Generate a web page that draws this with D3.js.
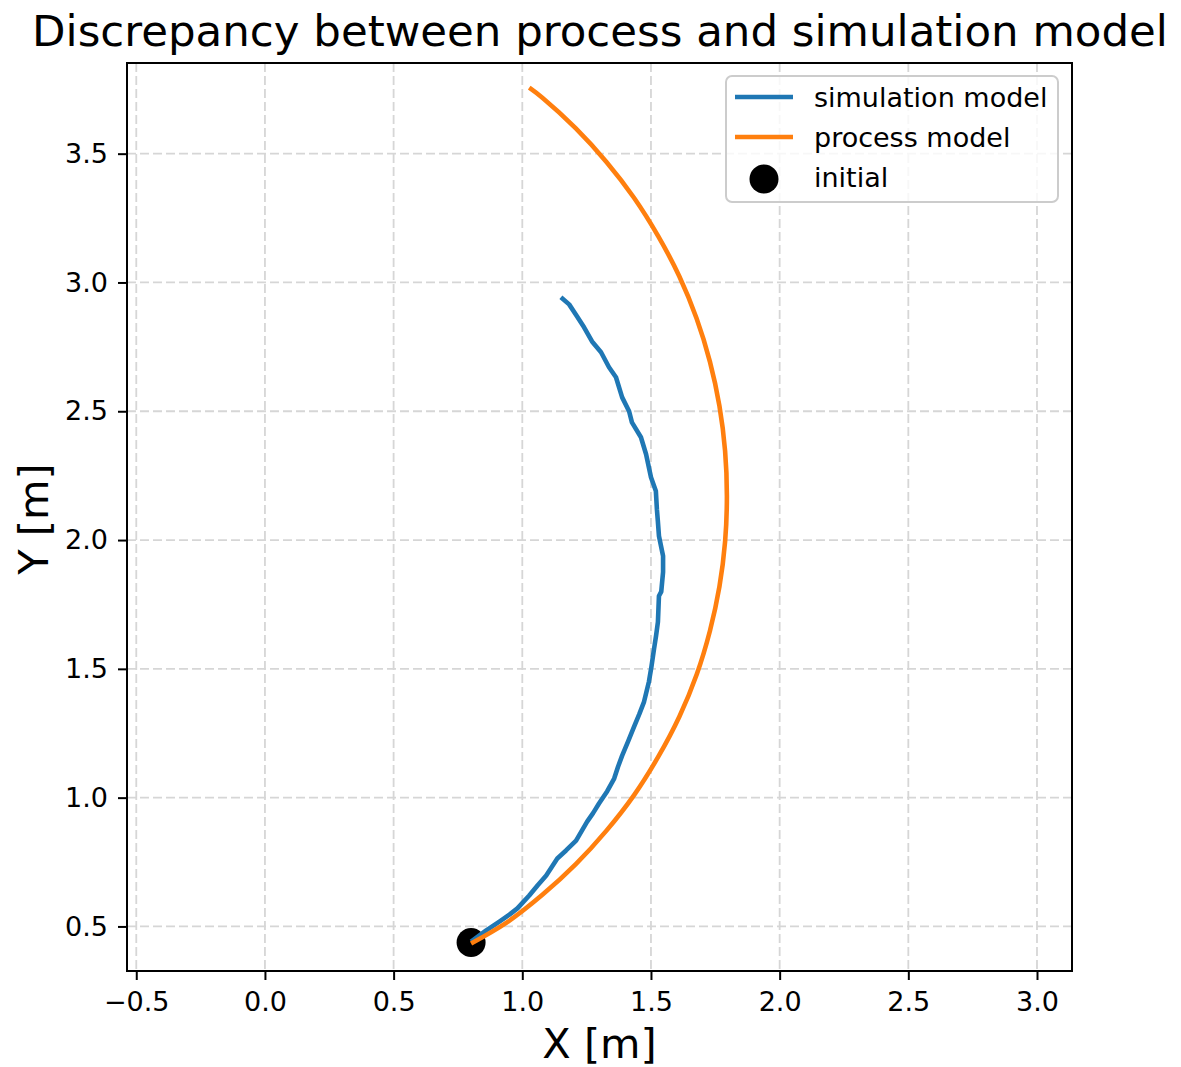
<!DOCTYPE html>
<html>
<head>
<meta charset="utf-8">
<script src="https://cdn.jsdelivr.net/npm/d3@7"></script>
<style>
  html, body { margin: 0; padding: 0; background: #fff; }
  text { font-family: "DejaVu Sans", sans-serif; }
</style>
</head>
<body>
<div id="container"></div>
<script>
const WIDTH = 1181;
const HEIGHT = 1067;

// trajectories (metres)
const simX = [0.801, 0.860, 0.911, 0.950, 0.981, 1.027, 1.060, 1.093, 1.136, 1.170, 1.209, 1.252,
  1.275, 1.298, 1.330, 1.357, 1.372, 1.388, 1.412, 1.434, 1.455, 1.473, 1.492, 1.502, 1.512,
  1.520, 1.527, 1.531, 1.540, 1.547, 1.547, 1.531, 1.527, 1.523, 1.519, 1.500, 1.481, 1.461,
  1.426, 1.415, 1.388, 1.364, 1.337, 1.306, 1.271, 1.240, 1.213, 1.182, 1.150];
const simY = [0.441, 0.485, 0.519, 0.546, 0.570, 0.620, 0.660, 0.698, 0.764, 0.795, 0.833, 0.907,
  0.940, 0.977, 1.025, 1.074, 1.120, 1.163, 1.220, 1.275, 1.325, 1.372, 1.450, 1.510, 1.578,
  1.630, 1.682, 1.783, 1.800, 1.876, 1.938, 2.016, 2.070, 2.120, 2.190, 2.244, 2.333, 2.399,
  2.457, 2.500, 2.554, 2.632, 2.671, 2.729, 2.771, 2.826, 2.868, 2.915, 2.943];

const procX = [0.801, 0.939, 1.078, 1.208, 1.327, 1.435, 1.529, 1.611, 1.678, 1.729, 1.766, 1.788,
  1.795, 1.788, 1.766, 1.729, 1.677, 1.610, 1.528, 1.434, 1.327, 1.208, 1.078, 1.027];
const procY = [0.434, 0.515, 0.623, 0.742, 0.872, 1.011, 1.160, 1.316, 1.479, 1.647, 1.819, 1.994,
  2.170, 2.346, 2.521, 2.693, 2.861, 3.024, 3.180, 3.329, 3.468, 3.598, 3.717, 3.756];

const initialX = 0.801;
const initialY = 0.438;

const xTicks = [-0.5, 0.0, 0.5, 1.0, 1.5, 2.0, 2.5, 3.0];
const xTickLabels = ['\u22120.5', '0.0', '0.5', '1.0', '1.5', '2.0', '2.5', '3.0'];
const yTicks = [0.5, 1.0, 1.5, 2.0, 2.5, 3.0, 3.5];
const yTickLabels = ['0.5', '1.0', '1.5', '2.0', '2.5', '3.0', '3.5'];

const seriesNames = ['simulation model', 'process model', 'initial'];
const seriesColors = ['#1f77b4', '#ff7f0e', '#000000'];

const LEFT = 127, RIGHT = 1072, TOP = 63, BOTTOM = 971;
const LINE_W = 4.6;

const svg = d3.select('#container')
  .append('svg')
  .attr('width', WIDTH)
  .attr('height', HEIGHT)
  .style('background-color', 'white');

const x = d3.scaleLinear().domain([-0.536, 3.136]).range([LEFT, RIGHT]);
const y = d3.scaleLinear().domain([0.327, 3.852]).range([BOTTOM, TOP]);

// grid
const grid = svg.append('g');
grid.selectAll('line.gx')
  .data(xTicks)
  .join('line')
  .attr('x1', d => x(d)).attr('x2', d => x(d))
  .attr('y1', TOP).attr('y2', BOTTOM)
  .style('stroke', '#d6d6d6')
  .style('stroke-width', 1.8)
  .style('stroke-dasharray', '9,4');
grid.selectAll('line.gy')
  .data(yTicks)
  .join('line')
  .attr('x1', LEFT).attr('x2', RIGHT)
  .attr('y1', d => y(d)).attr('y2', d => y(d))
  .style('stroke', '#d6d6d6')
  .style('stroke-width', 1.8)
  .style('stroke-dasharray', '9,4');

// initial point goes under the lines
svg.append('circle')
  .attr('cx', x(initialX))
  .attr('cy', y(initialY))
  .attr('r', 14.5)
  .style('fill', seriesColors[2]);

const simLine = d3.line()
  .x(d => x(d[0]))
  .y(d => y(d[1]));

const procLine = d3.line()
  .curve(d3.curveCatmullRom)
  .x(d => x(d[0]))
  .y(d => y(d[1]));

svg.append('path')
  .datum(d3.zip(simX, simY))
  .attr('d', simLine)
  .style('fill', 'none')
  .style('stroke', seriesColors[0])
  .style('stroke-width', LINE_W)
  .style('stroke-linejoin', 'round');

svg.append('path')
  .datum(d3.zip(procX, procY))
  .attr('d', procLine)
  .style('fill', 'none')
  .style('stroke', seriesColors[1])
  .style('stroke-width', LINE_W);

// axes
const xAxis = d3.axisBottom(x)
  .tickValues(xTicks)
  .tickFormat((d, i) => xTickLabels[i])
  .tickSize(9)
  .tickPadding(12);
const yAxis = d3.axisLeft(y)
  .tickValues(yTicks)
  .tickFormat((d, i) => yTickLabels[i])
  .tickSize(9)
  .tickPadding(10);

const gx = svg.append('g').attr('transform', `translate(0,${BOTTOM})`).call(xAxis);
const gy = svg.append('g').attr('transform', `translate(${LEFT},0)`).call(yAxis);
[gx, gy].forEach(g => {
  g.select('.domain').remove();
  g.selectAll('.tick line').style('stroke', '#000').style('stroke-width', 2);
  g.selectAll('.tick text')
    .style('font-family', '"DejaVu Sans", sans-serif')
    .style('font-size', '27px')
    .style('fill', '#000');
});

// frame
svg.append('rect')
  .attr('x', LEFT).attr('y', TOP)
  .attr('width', RIGHT - LEFT).attr('height', BOTTOM - TOP)
  .style('fill', 'none')
  .style('stroke', '#000')
  .style('stroke-width', 2);

// labels
svg.append('text')
  .attr('x', (LEFT + RIGHT) / 2)
  .attr('y', 1058)
  .attr('text-anchor', 'middle')
  .style('font-size', '41.5px')
  .text('X [m]');

svg.append('text')
  .attr('transform', `translate(48,${(TOP + BOTTOM) / 2 + 2}) rotate(-90)`)
  .attr('text-anchor', 'middle')
  .style('font-size', '41.5px')
  .text('Y [m]');

svg.append('text')
  .attr('x', 600)
  .attr('y', 46)
  .attr('text-anchor', 'middle')
  .style('font-size', '43.5px')
  .text('Discrepancy between process and simulation model');

// legend
const legend = svg.append('g');
legend.append('rect')
  .attr('x', 726).attr('y', 76)
  .attr('width', 332).attr('height', 126)
  .attr('rx', 6)
  .style('fill', 'white')
  .style('fill-opacity', 0.8)
  .style('stroke', '#cccccc')
  .style('stroke-width', 2);

seriesNames.forEach((name, i) => {
  const yPos = 97 + i * 40;
  if (i < 2) {
    legend.append('line')
      .attr('x1', 735).attr('x2', 793)
      .attr('y1', yPos).attr('y2', yPos)
      .style('stroke', seriesColors[i])
      .style('stroke-width', LINE_W);
  } else {
    legend.append('circle')
      .attr('cx', 764).attr('cy', yPos + 2)
      .attr('r', 14.5)
      .style('fill', seriesColors[i]);
  }
  legend.append('text')
    .attr('x', 814)
    .attr('y', yPos + 10)
    .style('font-size', '27px')
    .text(name);
});
</script>
</body>
</html>
